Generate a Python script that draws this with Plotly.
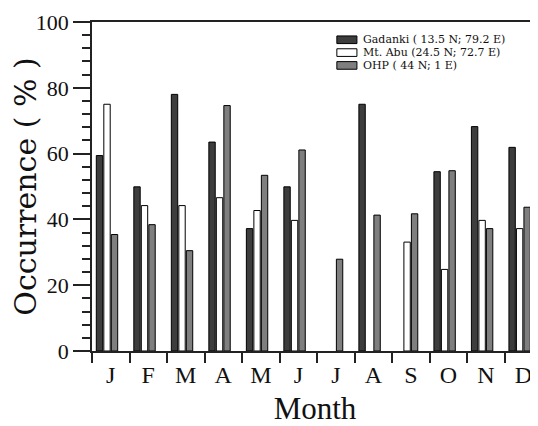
import plotly.graph_objects as go

months = ["J", "F", "M", "A", "M", "J", "J", "A", "S", "O", "N", "D"]
month_pos = list(range(1, 13))
boundaries = [i + 0.5 for i in range(0, 13)]

# None = no bar shown for that month
gadanki = [59.4, 49.9, 78.0, 63.5, 37.2, 49.9, None, 75.0, None, 54.5, 68.2, 61.9]
mt_abu = [75.0, 44.2, 44.2, 46.6, 42.7, 39.7, None, None, 33.1, 24.8, 39.7, 37.2]
ohp = [35.4, 38.4, 30.5, 74.6, 53.4, 61.1, 27.9, 41.3, 41.7, 54.8, 37.2, 43.7]

names = ["Gadanki ( 13.5 N; 79.2 E)", "Mt. Abu (24.5 N; 72.7 E)", "OHP ( 44 N; 1 E)"]
colors = ["#3d3d3d", "#ffffff", "#7f7f7f"]
offsets = [-0.385, -0.185, 0.015]

fig = go.Figure()
for vals, name, col, off in zip([gadanki, mt_abu, ohp], names, colors, offsets):
    fig.add_trace(go.Bar(
        x=month_pos, y=vals, name=name, width=0.17, offset=off,
        marker=dict(color=col, line=dict(color="#000000", width=1)),
        showlegend=False,
    ))

# compact legend (swatch + label per row), in paper coordinates
leg_x0, leg_x1, leg_tx = 0.549, 0.594, 0.603
leg_rows = [0.946, 0.907, 0.868]
leg_h = 0.0116
shapes = []
annotations = []
for name, col, yc in zip(names, colors, leg_rows):
    shapes.append(dict(type="rect", xref="paper", yref="paper",
                       x0=leg_x0, x1=leg_x1, y0=yc - leg_h, y1=yc + leg_h,
                       fillcolor=col, line=dict(color="#000", width=1)))
    annotations.append(dict(xref="paper", yref="paper", x=leg_tx, y=yc,
                            xanchor="left", yanchor="middle", showarrow=False,
                            text=name, font=dict(family="DejaVu Serif", size=11, color="#111")))

serif = "Liberation Serif, Times New Roman, serif"
# the page body adds an 8 px offset, so the figure is 8 px smaller and margins shifted
fig.update_layout(
    width=530, height=418,
    margin=dict(l=84, r=0, t=14, b=75),
    paper_bgcolor="white", plot_bgcolor="white",
    barmode="overlay",
    showlegend=False,
    shapes=shapes, annotations=annotations,
    font=dict(family=serif, color="#111"),
)
fig.update_xaxes(
    range=[0.5, 12.39], tickmode="array", tickvals=month_pos, ticktext=months,
    ticks="outside", ticklen=1, tickcolor="rgba(0,0,0,0)",
    tickfont=dict(family=serif, size=24, color="#111"),
    showline=True, linecolor="#222", linewidth=1.5, mirror=True,
    showgrid=False, zeroline=False, automargin=False,
    minor=dict(tickmode="array", tickvals=boundaries, ticks="outside", ticklen=10,
               tickcolor="#222", tickwidth=1.5, showgrid=False),
    title=dict(text="Month", font=dict(family=serif, size=31, color="#111"), standoff=23),
)
fig.update_yaxes(
    range=[0, 100], tickmode="array", tickvals=[0, 20, 40, 60, 80, 100],
    ticks="outside", ticklen=17, tickwidth=1.5, tickcolor="#222",
    tickfont=dict(family=serif, size=22, color="#111"),
    showline=True, linecolor="#222", linewidth=1.5,
    showgrid=False, zeroline=False, automargin=False,
    minor=dict(dtick=4, ticks="outside", ticklen=8, tickwidth=1.5, tickcolor="#222", showgrid=False),
    title=dict(text="Occurrence ( % )", font=dict(family="DejaVu Serif", size=30, color="#111"), standoff=6),
)

fig.write_html("out.html")
